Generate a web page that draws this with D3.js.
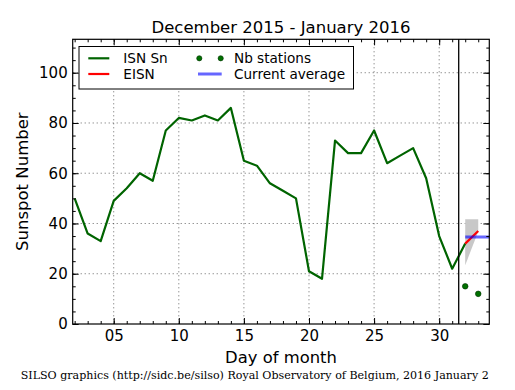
<!DOCTYPE html>
<html>
<head>
<meta charset="utf-8">
<script src="https://cdn.jsdelivr.net/npm/d3@7"></script>
<style>
  html, body { margin: 0; padding: 0; background: #fff; }
  svg { display: block; }
  text { font-family: "DejaVu Sans", sans-serif; fill: #000; }
</style>
</head>
<body>
<svg id="chart" width="515" height="390"></svg>
<script>
// ---- data ----
const isnDays = [2,3,4,5,6,7,8,9,10,11,12,13,14,15,16,17,18,19,20,21,22,23,24,25,26,27,28,29,30,31,32];
const isnValues = [50,36,33,49,54,60,57,77,82,81,83,81,86,65,63,56,53,50,21,18,73,68,68,77,64,67,70,58,35,22,32];
const eisnDays = [32,33];
const eisnValues = [32,37];
const bandUpper = [41.7,41.7];
const bandLower = [23.4,36.8];
const stationDays = [32,33];
const stationValues = [15,12];
const currentAverage = 34.6;
const averageDays = [32,34];
const monthBoundary = 31.5;
const xMajorTicks = [5,10,15,20,25,30];
const xTickLabels = ["05","10","15","20","25","30"];
const xMinorTicks = d3.range(2,34);
const yMajorTicks = [0,20,40,60,80,100];
const yMinorTicks = d3.range(0,115,5);
const titleText = "December 2015 - January 2016";
const xLabel = "Day of month";
const yLabel = "Sunspot Number";
const footerText = "SILSO graphics (http://sidc.be/silso) Royal Observatory of Belgium, 2016 January 2";
const legendItems = ["ISN Sn","EISN","Nb stations","Current average"];

// ---- layout ----
const L = 72.7, R = 489.3, T = 39.3, B = 324;
const svg = d3.select("#chart");
const x = d3.scaleLinear().domain([1.85, 33.85]).range([L, R]);
const y = d3.scaleLinear().domain([0, 113.3]).range([B, T]);

svg.append("defs").append("clipPath").attr("id","clip")
  .append("rect").attr("x",L).attr("y",T).attr("width",R-L).attr("height",B-T);

// grid
const grid = svg.append("g").attr("stroke","#000").attr("stroke-width",0.6).attr("stroke-dasharray","1,3");
xMajorTicks.forEach(d => grid.append("line").attr("x1",x(d)).attr("x2",x(d)).attr("y1",T).attr("y2",B));
yMajorTicks.filter(d=>d>0).forEach(d => grid.append("line").attr("x1",L).attr("x2",R).attr("y1",y(d)).attr("y2",y(d)));

const plot = svg.append("g").attr("clip-path","url(#clip)");

// band
const bandData = eisnDays.map((d,i)=>({d, lo:bandLower[i], hi:bandUpper[i]}));
plot.append("path").datum(bandData)
  .attr("fill","#c8c8c8")
  .attr("d", d3.area().x(p=>x(p.d)).y0(p=>y(p.lo)).y1(p=>y(p.hi)));

// ISN line
plot.append("path").datum(isnDays.map((d,i)=>[d,isnValues[i]]))
  .attr("fill","none").attr("stroke","#006400").attr("stroke-width",2.2).attr("stroke-linejoin","round")
  .attr("d", d3.line().x(p=>x(p[0])).y(p=>y(p[1])));

// EISN line
plot.append("path").datum(eisnDays.map((d,i)=>[d,eisnValues[i]]))
  .attr("fill","none").attr("stroke","#ff0000").attr("stroke-width",2.2)
  .attr("d", d3.line().x(p=>x(p[0])).y(p=>y(p[1])));

// current average
plot.append("path").datum(averageDays.map(d=>[d,currentAverage]))
  .attr("fill","none").attr("stroke","#0000ff").attr("stroke-opacity",0.6).attr("stroke-width",3)
  .attr("d", d3.line().x(p=>x(p[0])).y(p=>y(p[1])));

// stations
plot.selectAll("circle.st").data(stationDays.map((d,i)=>[d,stationValues[i]])).enter()
  .append("circle").attr("class","st")
  .attr("cx",p=>x(p[0])).attr("cy",p=>y(p[1])).attr("r",2.8)
  .attr("fill","#007000").attr("stroke","#003000").attr("stroke-width",0.6);

// month boundary
svg.append("line").attr("x1",x(monthBoundary)).attr("x2",x(monthBoundary)).attr("y1",T).attr("y2",B)
  .attr("stroke","#000").attr("stroke-width",1.3);

// axes (ticks inward on all sides)
function styleAxis(g){ g.select(".domain").remove(); g.selectAll("line").attr("stroke","#000").attr("stroke-width",1);
  g.selectAll("text").style("font-family","DejaVu Sans").style("font-size","15px"); }

svg.append("g").attr("transform",`translate(0,${B})`)
  .call(d3.axisBottom(x).tickValues(xMinorTicks).tickSize(-3).tickFormat(""))
  .call(styleAxis);
svg.append("g").attr("transform",`translate(0,${B})`)
  .call(d3.axisBottom(x).tickValues(xMajorTicks).tickSize(-6).tickPadding(6)
    .tickFormat((d,i)=>xTickLabels[i]))
  .call(styleAxis);
svg.append("g").attr("transform",`translate(0,${T})`)
  .call(d3.axisTop(x).tickValues(xMinorTicks).tickSize(-3).tickFormat(""))
  .call(styleAxis);
svg.append("g").attr("transform",`translate(0,${T})`)
  .call(d3.axisTop(x).tickValues(xMajorTicks).tickSize(-6).tickFormat(""))
  .call(styleAxis);

svg.append("g").attr("transform",`translate(${L},0)`)
  .call(d3.axisLeft(y).tickValues(yMinorTicks).tickSize(-3).tickFormat(""))
  .call(styleAxis);
svg.append("g").attr("transform",`translate(${L},0)`)
  .call(d3.axisLeft(y).tickValues(yMajorTicks).tickSize(-6).tickPadding(5).tickFormat(d3.format("d")))
  .call(styleAxis);
svg.append("g").attr("transform",`translate(${R},0)`)
  .call(d3.axisRight(y).tickValues(yMinorTicks).tickSize(-3).tickFormat(""))
  .call(styleAxis);
svg.append("g").attr("transform",`translate(${R},0)`)
  .call(d3.axisRight(y).tickValues(yMajorTicks).tickSize(-6).tickFormat(""))
  .call(styleAxis);

// frame
svg.append("rect").attr("x",L).attr("y",T).attr("width",R-L).attr("height",B-T)
  .attr("fill","none").attr("stroke","#000").attr("stroke-width",1.2);

// legend
const lg = svg.append("g");
lg.append("rect").attr("x",79).attr("y",46.5).attr("width",274.5).attr("height",42.5)
  .attr("fill","#fff").attr("stroke","#000").attr("stroke-width",1);
const r1 = 58.3, r2 = 74;
lg.append("line").attr("x1",88.3).attr("x2",109.3).attr("y1",r1).attr("y2",r1).attr("stroke","#006400").attr("stroke-width",2.2);
lg.append("line").attr("x1",88.3).attr("x2",109.3).attr("y1",r2).attr("y2",r2).attr("stroke","#ff0000").attr("stroke-width",2.2);
[199.3,220.7].forEach(cx => lg.append("circle").attr("cx",cx).attr("cy",r1).attr("r",2.6)
  .attr("fill","#007000").attr("stroke","#003000").attr("stroke-width",0.6));
lg.append("line").attr("x1",198).attr("x2",221.7).attr("y1",r2).attr("y2",r2).attr("stroke","#0000ff").attr("stroke-opacity",0.6).attr("stroke-width",3);
const lt = [[123.3,63.3,legendItems[0]],[123.3,79,legendItems[1]],[234,63.3,legendItems[2]],[234,79,legendItems[3]]];
lt.forEach(([tx,ty,s]) => lg.append("text").attr("x",tx).attr("y",ty).style("font-size","13.6px").text(s));

// title and labels
svg.append("text").attr("x",(L+R)/2).attr("y",32.7).attr("text-anchor","middle").style("font-size","16.5px").text(titleText);
svg.append("text").attr("x",(L+R)/2).attr("y",362.7).attr("text-anchor","middle").style("font-size","16.4px").text(xLabel);
svg.append("text").attr("transform",`translate(28.3,${(T+B)/2}) rotate(-90)`).attr("text-anchor","middle").style("font-size","16.5px").text(yLabel);

// footer
const ft = svg.append("text").attr("x",20.7).attr("y",379).style("font-family","'DejaVu Serif', serif").style("font-size","10px").text(footerText);
const w = ft.node().getComputedTextLength();
ft.style("font-size", (10*468.6/w).toFixed(2)+"px");
</script>
</body>
</html>
